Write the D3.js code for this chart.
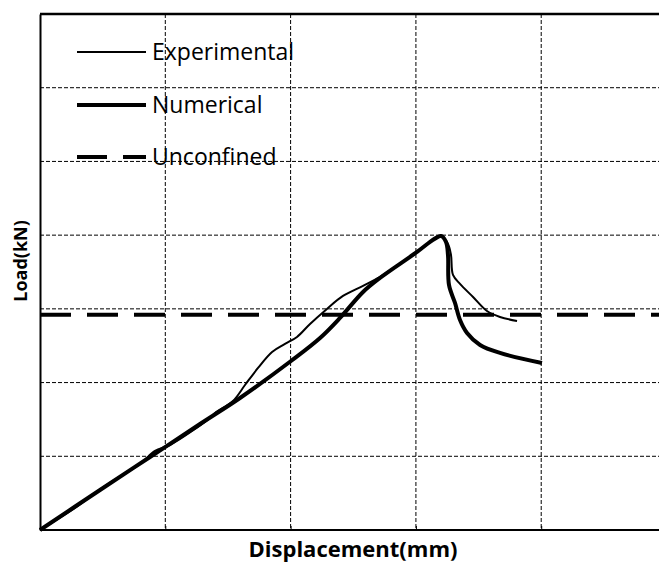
<!DOCTYPE html>
<html><head><meta charset="utf-8">
<script src="https://cdn.jsdelivr.net/npm/d3@7"></script>
<style>body{margin:0;background:#fff}svg{display:block}</style>
</head><body><div id="chart"></div>
<script>
// Data (displacement, load)
const expX = [0,0.279,0.519,0.798,0.918,1.038,1.357,1.397,1.540,1.636,1.740,1.852,1.955,2.051,2.155,2.290,2.418,2.578,2.713,3.009,3.176,3.208,3.256,3.280,3.296,3.352,3.456,3.567,3.671,3.807];
const expY = [0,0.299,0.597,0.896,1.072,1.153,1.520,1.588,1.750,1.967,2.198,2.415,2.524,2.619,2.795,2.999,3.175,3.311,3.433,3.772,3.976,3.976,3.880,3.731,3.460,3.338,3.161,2.971,2.890,2.836];
const numX = [0,0.479,0.878,1.277,1.596,2.003,2.235,2.394,2.578,2.713,3.009,3.113,3.176,3.200,3.240,3.256,3.264,3.312,3.352,3.408,3.512,3.671,4.006];
const numY = [0,0.543,0.990,1.438,1.791,2.293,2.605,2.877,3.229,3.419,3.772,3.908,3.976,3.989,3.908,3.731,3.324,3.080,2.849,2.673,2.510,2.402,2.266];
const unconfinedLoad = 2.92;
const xTicks = [1,2,3,4];
const yTicks = [1,2,3,4,5,6];
const seriesNames = ["Experimental","Numerical","Unconfined"];

const W = 659, H = 565;
const FONT = "'Open Sans', Lato, sans-serif";
const svg = d3.select("#chart").append("svg").attr("width", W).attr("height", H);
const x = d3.scaleLinear().domain([0, 4.94]).range([40, 659]);
const y = d3.scaleLinear().domain([0, 7]).range([530, 14]);

// grid
const g = svg.append("g");
g.selectAll(".vx").data(xTicks).join("line")
  .attr("x1", d => x(d)).attr("x2", d => x(d)).attr("y1", y(7)).attr("y2", y(0))
  .attr("stroke", "#000").attr("stroke-width", 1).attr("stroke-dasharray", "4,2");
g.selectAll(".hy").data(yTicks).join("line")
  .attr("x1", x(0)).attr("x2", W).attr("y1", d => y(d)).attr("y2", d => y(d))
  .attr("stroke", "#000").attr("stroke-width", 1).attr("stroke-dasharray", "4,2");

// axes frame
const xAxis = d3.axisBottom(x).tickValues(xTicks).tickSize(-4).tickFormat("");
svg.append("g").attr("transform", `translate(0,${y(0)})`).call(xAxis)
  .call(s => s.select(".domain").attr("stroke-width", 2).attr("d", `M${x(0)},0H${W}`))
  .call(s => s.selectAll(".tick line").attr("stroke-width", 1));
const yAxis = d3.axisLeft(y).tickValues([]).tickSize(0);
svg.append("g").attr("transform", `translate(${x(0)},0)`).call(yAxis)
  .call(s => s.select(".domain").attr("stroke-width", 2));
svg.append("line").attr("x1", x(0)).attr("x2", W).attr("y1", y(7)).attr("y2", y(7))
  .attr("stroke", "#000").attr("stroke-width", 2.5);

// unconfined
svg.append("line").attr("x1", x(0)).attr("x2", W)
  .attr("y1", y(unconfinedLoad)).attr("y2", y(unconfinedLoad))
  .attr("stroke", "#000").attr("stroke-width", 4).attr("stroke-dasharray", "31,16");

const lineC = d3.line().x(d => x(d[0])).y(d => y(d[1])).curve(d3.curveCatmullRom.alpha(0.5));
const expData = expX.map((v,i) => [v, expY[i]]);
const numData = numX.map((v,i) => [v, numY[i]]);
svg.append("path").attr("d", lineC(numData)).attr("fill", "none").attr("stroke", "#000")
  .attr("stroke-width", 4).attr("stroke-linejoin", "round").attr("stroke-linecap", "butt");
svg.append("path").attr("d", lineC(expData)).attr("fill", "none").attr("stroke", "#000")
  .attr("stroke-width", 2).attr("stroke-linejoin", "round");

// legend
const leg = svg.append("g");
const legY = [52, 105, 157];
const legW = [2, 4, 4];
legY.forEach((ly, i) => {
  const l = leg.append("line").attr("x1", 77).attr("x2", 146).attr("y1", ly).attr("y2", ly)
    .attr("stroke", "#000").attr("stroke-width", legW[i]);
  if (i === 2) l.attr("stroke-dasharray", "30,16");
  leg.append("text").attr("x", 152).attr("y", ly + 8).text(seriesNames[i])
    .attr("font-family", FONT).attr("font-size", 23).attr("fill", "#000");
});

// axis titles
svg.append("text").attr("x", 353).attr("y", 557).attr("text-anchor", "middle")
  .attr("font-family", FONT).attr("font-weight", "bold").attr("font-size", 22)
  .text("Displacement(mm)");
svg.append("text").attr("transform", "translate(27,261) rotate(-90)").attr("text-anchor", "middle")
  .attr("font-family", FONT).attr("font-weight", "bold").attr("font-size", 18)
  .text("Load(kN)");
</script></body></html>
